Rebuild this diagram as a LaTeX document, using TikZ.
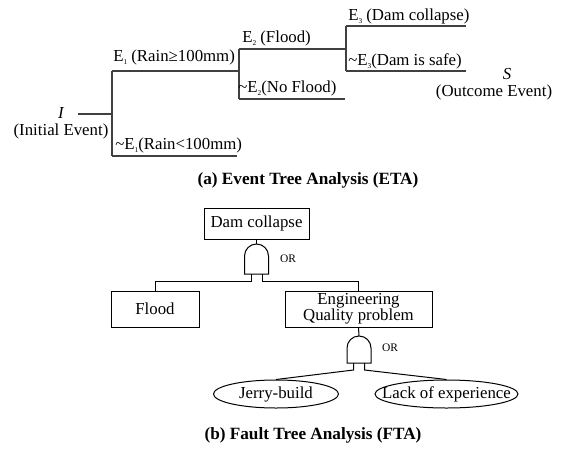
\documentclass[tikz,border=0pt]{standalone}
\usepackage{fontspec}
\setmainfont{Liberation Serif}
\usetikzlibrary{shapes.geometric}

\newcommand{\esub}[1]{\raisebox{-2.4pt}{\fontsize{5.5}{6}\selectfont #1}}

\tikzset{
  branch/.style={line width=0.9pt, color=black!75},
  lbl/.style={anchor=west, inner sep=0.75pt, font=\fontsize{12.6}{12}\selectfont},
  tag/.style={inner sep=0.75pt, font=\fontsize{12.6}{12}\selectfont},
  event/.style={draw, line width=0.75pt, inner sep=0pt, align=center, font=\fontsize{12.6}{12}\selectfont},
  leaf/.style={draw, ellipse, line width=0.75pt, inner sep=0pt, minimum height=21pt},
  gate/.style={line width=0.75pt},
  gatelbl/.style={inner sep=0.75pt, font=\fontsize{8.6}{9}\selectfont},
  figcaption/.style={inner sep=0.75pt, font=\fontsize{12.9}{14}\selectfont\bfseries}
}

\begin{document}
\begin{tikzpicture}[x=0.75pt,y=0.75pt,yscale=-1,xscale=1]
\useasboundingbox (0,0) rectangle (571,457);

%Event tree: branch points
\coordinate (i0) at (78,114);
\coordinate (b1) at (112,114);
\coordinate (b1u) at (112,71);
\coordinate (b1d) at (112,156);
\coordinate (e1d) at (237,156);
\coordinate (b2m) at (239,71);
\coordinate (b2u) at (239,49);
\coordinate (b2d) at (239,99);
\coordinate (e2d) at (345,99);
\coordinate (b3m) at (346,49);
\coordinate (b3u) at (346,26);
\coordinate (b3d) at (346,71);
\coordinate (e3u) at (466,26);
\coordinate (e3d) at (466,71);

%Straight Lines
\draw[branch] (i0) -- (b1);
\draw[branch] (b1u) -- (b1d);
\draw[branch] (b1u) -- (b2m);
\draw[branch] (b1d) -- (e1d);
\draw[branch] (b2u) -- (b2d);
\draw[branch] (b2u) -- (b3m);
\draw[branch] (b2d) -- (e2d);
\draw[branch] (b3u) -- (b3d);
\draw[branch] (b3u) -- (e3u);
\draw[branch] (b3d) -- (e3d);

% Text Node
\node[tag, font=\fontsize{12.6}{12}\selectfont\itshape] (init) at (61,113) {I};
\node[tag] (initlbl) at (61,131) {(Initial Event)};
\node[lbl] (e1lbl) at (112,57.5) {E\esub{1} (Rain≥100mm)};
\node[lbl] (ne1lbl) at (114,145) {\textasciitilde E\esub{1}(Rain<100mm)};
\node[lbl] (e2lbl) at (241,38) {E\esub{2} (Flood)};
\node[lbl] (ne2lbl) at (237,88) {\textasciitilde E\esub{2}(No Flood)};
\node[lbl] (e3lbl) at (347,16.5) {E\esub{3} (Dam collapse)};
\node[lbl] (ne3lbl) at (347,61.5) {\textasciitilde E\esub{3}(Dam is safe)};
\node[tag, font=\fontsize{12.6}{12}\selectfont\itshape] (out) at (507,74) {S};
\node[tag] (outlbl) at (494,92.5) {(Outcome Event)};
\node[figcaption] (capa) at (308,180) {(a) Event Tree Analysis (ETA)};

%Fault tree: events
\node[event, minimum width=78.75pt, minimum height=23.25pt] (dam) at (256.5,223.5) {Dam collapse};
\node[event, minimum width=66pt, minimum height=27pt] (flood) at (155,309) {Flood};
\node[event, minimum width=110.25pt, minimum height=27pt] (eng) at (358.5,309) {Engineering\\Quality problem};
\node[leaf, minimum width=93.75pt] (jerry) at (276,394) {};
\node[tag] (jerrytxt) at (jerry) {Jerry-build};
\node[leaf, minimum width=107.25pt] (lack) at (446.5,394) {};
\node[tag] (lacktxt) at (lack) {Lack of experience};

%Shape: OR gates
\coordinate (g1t) at (256.5,244);
\coordinate (g1a) at (251,274);
\coordinate (g1b) at (262,274);
\draw[gate] (244.5,274) -- (244.5,256) arc[start angle=180, end angle=360, radius=12] -- (268.5,274) -- cycle;
\coordinate (g2t) at (359,336);
\coordinate (g2a) at (353.5,363);
\coordinate (g2b) at (364.5,363);
\draw[gate] (347,363) -- (347,348) arc[start angle=180, end angle=360, radius=12] -- (371,363) -- cycle;

%Connectors
\draw[gate] (dam.south) -- (g1t);
\draw[gate] (g1a) -- ++(0,7) -| (flood.north);
\draw[gate] (g1b) -- ++(0,7) -| (eng.north);
\draw[gate] (eng.south) -- (g2t);
\draw[gate] (g2a) -- ++(0,7) -- (jerry.north);
\draw[gate] (g2b) -- ++(0,7) -- (lack.north);

% Text Node
\node[gatelbl] (or1) at (288,259) {OR};
\node[gatelbl] (or2) at (390,348) {OR};
\node[figcaption] (capb) at (313,435) {(b) Fault Tree Analysis (FTA)};

\end{tikzpicture}
\end{document}
